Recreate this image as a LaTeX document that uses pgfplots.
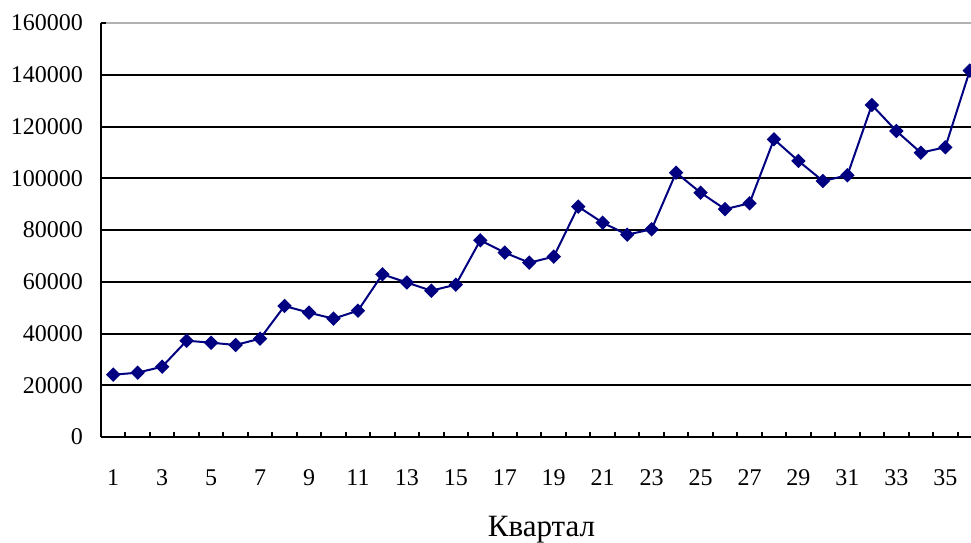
\documentclass[border=0pt]{standalone}
\usepackage{fontspec}
\setmainfont{Liberation Serif}
\usepackage{pgfplots}
\pgfplotsset{compat=1.18}
\definecolor{navy}{RGB}{0,0,128}

\begin{document}
\begin{tikzpicture}
\begin{axis}[
  scale only axis, width=440.5pt, height=207pt,
  xmin=0.5, xmax=36.5, ymin=0, ymax=160000,
  axis lines=left, axis line style={-, line width=1pt},
  tick align=inside,
  xtick={1,3,...,35}, major x tick style={draw=none},
  minor xtick={1.5,2.5,...,35.5},
  minor tick length=2.5pt, major tick length=2.5pt,
  tick style={black, line width=1pt},
  ytick={0,20000,...,140000},
  extra y ticks={160000}, extra y tick style={grid style={gray!60, line width=1pt}},
  ymajorgrids, grid style={black, line width=1pt},
  scaled y ticks=false,
  /pgf/number format/fixed,
  /pgf/number format/precision=0,
  /pgf/number format/set thousands separator={},
  /pgf/number format/assume math mode=true,
  ticklabel style={font=\fontsize{12}{14}\selectfont},
  xticklabel style={anchor=base, yshift=-24pt},
  yticklabel style={anchor=east, xshift=-5.5pt},
  xlabel={Квартал},
  xlabel style={at={(axis description cs:0.5,0)}, anchor=base, yshift=-49.85pt,
    font=\fontsize{15.5}{18}\selectfont},
]
\addplot[navy, line width=1pt, mark=square*, mark size=2.05pt,
  mark options={rotate=45, solid, fill=navy}] coordinates {
  (1,24080) (2,24860) (3,27180) (4,37220) (5,36450) (6,35560)
  (7,38000) (8,50630) (9,48050) (10,45730) (11,48820) (12,62870)
  (13,59700) (14,56550) (15,58870) (16,76020) (17,71240) (18,67370)
  (19,69690) (20,89020) (21,82830) (22,78200) (23,80270) (24,102160)
  (25,94430) (26,88050) (27,90320) (28,115060) (29,106670) (30,98940)
  (31,101140) (32,128320) (33,118270) (34,109880) (35,111970) (36,141570)
};
\end{axis}
\pgfresetboundingbox
\path ([shift={(-50.5pt,-52.5pt)}]current axis.south west)
  rectangle ([shift={(435pt,11.5pt)}]current axis.north west);
\end{tikzpicture}
\end{document}
